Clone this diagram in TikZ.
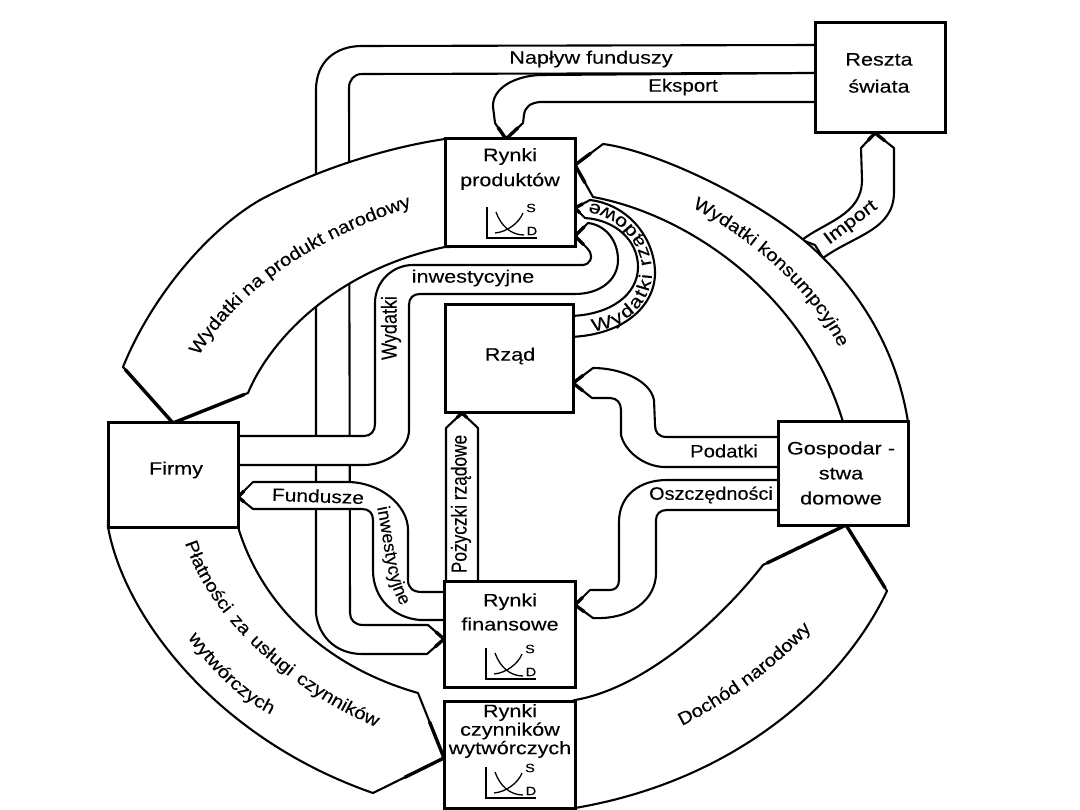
\documentclass[tikz,border=0pt]{standalone}
\usepackage{fontspec}
\usepackage{graphicx}
\setmainfont[FakeStretch=1.2,FakeBold=0.12]{Liberation Sans}
\newfontfamily\uprightfont[FakeBold=0.12]{Liberation Sans}
\newfontfamily\slantrunfont[FakeStretch=1.12,FakeBold=0.12]{Liberation Sans}
\usetikzlibrary{backgrounds,calc,decorations.text}
\newcommand\labelfont{\fontsize{18}{25}\selectfont}
\newcommand\smallfont{\fontsize{12}{13}\selectfont}
% upright run of text, widened across its length, for labels that read up the page
\newcommand\tallrun[1]{\scalebox{1}[1.2]{\uprightfont\labelfont #1}}
% thick taper of an arrow head: shoulder A, tip T, shoulder B
\newcommand\barb[4][.55]{\draw[tipedge] ($(#3)!#1!(#2)$) -- (#3) -- ($(#3)!#1!(#4)$);}
% text set along a band
\newcommand\bandtext[3][center]{\path[decorate,decoration={text along path,text align={#1},text={|\slantrunfont\labelfont|#2}}] #3;}
\tikzset{
  x=1pt,y=-1pt,
  market/.style={draw,line width=3pt,fill=white,inner sep=0pt,outer sep=0pt},
  caption/.style={inner sep=0pt,align=center,font=\labelfont},
  band/.style={draw,fill=white,line width=2.1pt,line join=round},
  tipedge/.style={line width=3.4pt,line cap=round,line join=miter},
  sdchart/.pic={
    \draw[line width=1.2pt] (0,-31) -- (0,0) -- (50,0);
    \draw[line width=1.3pt] (8,-5) .. controls (20,-6) and (32,-15) .. (36,-25);
    \draw[line width=1.3pt] (9,-26) .. controls (14,-12) and (24,-3) .. (37,-3);
    \node[inner sep=0pt,font=\smallfont] at (44,-30) {S};
    \node[inner sep=0pt,font=\smallfont] at (45,-7) {D};
  }
}
\begin{document}
\begin{tikzpicture}
\useasboundingbox (0,0) rectangle (1080,810);

% markets and sectors
\node[market,minimum width=130pt,minimum height=108pt] (prod) at (510,193) {};
\node[market,minimum width=128pt,minimum height=108pt] (rzad) at (509,359) {};
\node[market,minimum width=131pt,minimum height=106pt] (fin) at (509.5,634) {};
\node[market,minimum width=131pt,minimum height=107pt] (czyn) at (509.5,754.5) {};
\node[market,minimum width=130pt,minimum height=104pt] (firmy) at (173,475) {};
\node[market,minimum width=130pt,minimum height=103pt] (gosp) at (843,473.5) {};
\node[market,minimum width=130pt,minimum height=110pt] (reszta) at (880,78) {};

\node[caption] (prodtext) at (510,169) {Rynki\\produktów};
\node[caption] (rzadtext) at (510,356) {Rząd};
\node[caption,font=\fontsize{18}{24}\selectfont] (fintext) at (510,612) {Rynki\\finansowe};
\node[caption,font=\fontsize{18}{18.5}\selectfont] (czyntext) at (510,731) {Rynki\\czynników\\wytwórczych};
\node[caption] (firmytext) at (176,470) {Firmy};
\node[caption] (gosptext) at (841,473) {Gospodar -\\stwa\\domowe};
\node[caption,font=\fontsize{18}{27}\selectfont] (resztatext) at (879,73) {Reszta\\świata};

\pic at (487,238) {sdchart};
\pic at (486,679) {sdchart};
\pic at (486,798) {sdchart};

% arrow tips resting on the boxes
\coordinate (tNap) at (fin.west |- 0,639);
\coordinate (tEks) at (506,0 |- prod.north);
\coordinate (tKons) at (prod.east |- 0,165);
\coordinate (tRzad) at (prod.east |- 0,208);
\coordinate (tInw) at (prod.east |- 0,236);
\coordinate (tWyd) at (173,0 |- firmy.north);
\coordinate (tPlat) at (czyn.west |- 0,758);
\coordinate (tDoch) at (846,0 |- gosp.south);
\coordinate (tImp) at (875,0 |- reszta.south);
\coordinate (tPod) at (rzad.east |- 0,383);
\coordinate (tOsz) at (fin.east |- 0,605);
\coordinate (tFund) at (firmy.east |- 0,497);
\coordinate (tPoz) at (462,0 |- rzad.south);

\begin{scope}[on background layer]
  % inflow of funds and exports
  \path[band] (820,45) -- (362,46) .. controls (335,46) and (316,62) .. (316,90) -- (316,613)
    .. controls (318,635) and (335,654) .. (362,654) -- (427,654) -- (tNap) -- (428,625) -- (363,625)
    .. controls (355,625) and (350,620) .. (350,613) -- (349,88) .. controls (349,80) and (354,74) .. (362,74) -- (820,73) -- cycle;
  \path[band] (820,73) -- (540,75) .. controls (515,76) and (492,88) .. (493,107) -- (495,123) -- (tEks) -- (523,123) -- (524,115)
    .. controls (525,107) and (530,103) .. (540,102) -- (820,102) -- cycle;

  % spending on national product
  \path[band] (450,139) -- (445,139) .. controls (390,147) and (320,168) .. (260,200)
    .. controls (205,232) and (150,300) .. (123,367) -- (tWyd) -- (248,393)
    .. controls (270,340) and (335,270) .. (445,247) -- (450,247) -- cycle;

  % factor payments
  \path[band] (108,520) -- (108,527) .. controls (125,620) and (220,740) .. (373,793)
    -- (tPlat) -- (418,693) .. controls (320,665) and (260,600) .. (238,527) -- (238,520) -- cycle;

  % national income
  \path[band] (570,702) -- (575,700) .. controls (645,688) and (720,620) .. (763,565)
    -- (tDoch) -- (887,591) .. controls (845,680) and (740,780) .. (575,808) -- (570,808) -- cycle;

  % imports run under the consumption band
  \path[band] (815,245) -- (802,240) .. controls (825,222) and (862,215) .. (862,180) -- (861,148)
    -- (tImp) -- (894,148) -- (894,192) .. controls (894,230) and (855,235) .. (823,258) -- cycle;

  % consumption spending
  \path[band] (tKons) -- (603,144) .. controls (650,150) and (740,190) .. (800,237)
    .. controls (850,278) and (895,340) .. (908,422)
    -- (908,430) -- (843,430) -- (843,422) .. controls (805,295) and (690,215) .. (593,197) -- cycle;

  % government spending
  \path[band] (tRzad) -- (590,200) .. controls (630,205) and (655,240) .. (655,273)
    .. controls (655,305) and (625,335) .. (570,337) -- (570,316)
    .. controls (610,315) and (638,295) .. (638,267) .. controls (638,240) and (615,220) .. (585,218) -- cycle;

  % investment spending
  \path[band] (230,436) -- (364,436) .. controls (371,436) and (375,431) .. (375,424) -- (375,303)
    .. controls (375,282) and (392,265) .. (413,265) -- (583,265) .. controls (590,264) and (593,258) .. (590,252) -- (587,248) -- (tInw)
    -- (588,223) .. controls (605,225) and (618,240) .. (618,260) .. controls (618,280) and (600,294) .. (575,294)
    -- (420,294) .. controls (413,294) and (409,298) .. (409,305) -- (409,430) .. controls (409,450) and (385,465) .. (364,465) -- (230,465) -- cycle;

  % investment funds
  \path[band] (tFund) -- (253,482) -- (347,482) .. controls (380,482) and (408,505) .. (408,530) -- (408,580)
    .. controls (408,588) and (413,592) .. (422,592) -- (450,592) -- (450,620) -- (420,620)
    .. controls (395,618) and (373,600) .. (373,570) -- (373,520) .. controls (373,513) and (369,509) .. (362,509) -- (253,509) -- cycle;

  % government loans
  \path[band] (446,590) -- (446,428) -- (tPoz) -- (478,428) -- (478,590) -- cycle;

  % taxes
  \path[band] (785,437) -- (667,437) .. controls (658,437) and (655,432) .. (655,425) -- (654,400)
    .. controls (650,380) and (620,368) .. (593,368) -- (tPod) -- (592,398) -- (610,398)
    .. controls (617,398) and (621,403) .. (621,410) -- (621,435) .. controls (625,452) and (645,467) .. (665,467) -- (785,467) -- cycle;

  % savings
  \path[band] (785,480) -- (667,480) .. controls (640,480) and (619,495) .. (619,522) -- (619,580)
    .. controls (619,587) and (615,590) .. (610,590) -- (590,590) -- (tOsz) -- (593,618)
    .. controls (630,620) and (656,600) .. (656,573) -- (656,520) .. controls (656,514) and (660,510) .. (667,510) -- (785,510) -- cycle;

  % tapered heads
  \barb[.5]{427,654}{tNap}{428,625}
  \barb[.7]{495,123}{tEks}{523,123}
  \barb[.55]{603,144}{tKons}{593,197}
  \barb[.5]{590,200}{tRzad}{585,218}
  \barb[.7]{588,223}{tInw}{587,248}
  \barb[.95]{123,367}{tWyd}{248,393}
  \barb[.55]{418,693}{tPlat}{373,793}
  \barb[.95]{763,565}{tDoch}{887,591}
  \barb[.5]{861,148}{tImp}{894,148}
  \barb[.5]{593,368}{tPod}{592,398}
  \barb[.5]{590,590}{tOsz}{593,618}
  \barb[.4]{253,482}{tFund}{253,509}
  \barb[.3]{446,428}{tPoz}{478,428}
\end{scope}

% labels on the straight runs
\node[caption] (naplyw) at (591,59) {Napływ funduszy};
\node[caption] (eksport) at (683,87) {\scalebox{.95}[1]{Eksport}};
\node[caption] (inwest) at (473,278) {inwestycyjne};
\node[caption,rotate=90] (wydatki) at (391,328) {\tallrun{Wydatki}};
\node[caption,rotate=90] (pozyczki) at (461,504) {\scalebox{.96}[1]{\tallrun{Pożyczki rządowe}}};
\node[caption,rotate=-2] (fundusze) at (318,496) {\scalebox{.97}[1]{Fundusze}};
\node[caption] (podatki) at (724,451) {\scalebox{.94}[1]{Podatki}};
\node[caption] (oszcz) at (711,495) {\scalebox{.92}[1]{Oszczędności}};
\node[caption,rotate=37] (import) at (851,223) {Import};

% labels that follow the bands
\bandtext{Wydatki na produkt narodowy}{(196,360) .. controls (238,290) and (310,240) .. (416,205)}
\bandtext{Wydatki konsumpcyjne}{(686,204) .. controls (750,237) and (815,292) .. (842,354)}
\bandtext{Dochód narodowy}{(676,729) .. controls (730,702) and (780,665) .. (816,624)}
\bandtext[fit to path stretching spaces]{Płatności za usługi czynników}{(185,543) .. controls (210,620) and (290,690) .. (376,727)}
\bandtext{wytwórczych}{(186,635) .. controls (210,670) and (240,700) .. (274,716)}
\path[decorate,decoration={text along path,text align=center,text={|\uprightfont\labelfont|inwestycyjne}}] (376,503) .. controls (385,540) and (385,585) .. (404,610);
\path[decorate,decoration={text along path,text align={fit to path},text={|\labelfont|Wydatki rządowe}}] (593,331) .. controls (628,328) and (652,300) .. (652,272) .. controls (652,240) and (625,208) .. (590,203);
\end{tikzpicture}
\end{document}
